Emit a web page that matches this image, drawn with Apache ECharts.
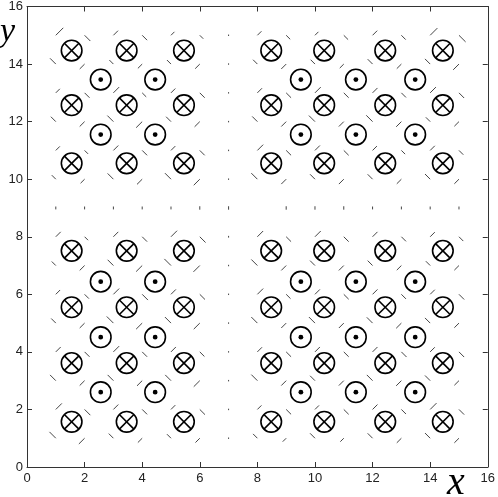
<!DOCTYPE html>
<html>
<head>
<meta charset="utf-8">
<script src="https://cdn.jsdelivr.net/npm/echarts/dist/echarts.min.js"></script>
<style>
  html, body { margin: 0; padding: 0; background: #fff; }
  #chart { width: 498px; height: 497px; }
</style>
</head>
<body>
<div id="chart"></div>
<script>
// wire positions (centres of the circles)
const crossLeftX = [1.55, 3.46, 5.45];
const crossRightX = [8.48, 10.32, 12.44, 14.44];
const dotLeftX = [2.56, 4.45];
const dotRightX = [9.51, 11.42, 13.48];
const crossTopY = [14.47, 12.57, 10.55];
const crossBottomY = [7.51, 5.55, 3.61, 1.57];
const dotTopY = [13.46, 11.55];
const dotBottomY = [6.44, 4.51, 2.6];

// field dashes on the integer grid, rows from y = 15 down to y = 1
const gridX = [1, 2, 3, 4, 5, 6, 7, 8, 9, 10, 11, 12, 13, 14, 15];
const gridY = [15, 14, 13, 12, 11, 10, 9, 8, 7, 6, 5, 4, 3, 2, 1];
const dashDir = [
  'NE SE NE SE NE SE . NE SE NE SE NE SE NE SE',
  'NW SW NW SW NW SW . NW SW NW SW NW SW NW SW',
  'NE SE NE SE NE SE . NE SE NE SE NE SE NE SE',
  'NW SW NW SW NW SW . NW SW NW SW NW SW NW SW',
  'NE SE NE SE NE SE . NE SE NE SE NE SE NE SE',
  'NW SW NW SW NW SW . NW SW NW SW NW SW NW SW',
  '| | | | | | | - | | | | | | |',
  'NE SE NE SE NE SE . NE SE NE SE NE SE NE SE',
  'NW SW NW SW NW SW . NW SW NW SW NW SW NW SW',
  'NE SE NE SE NE SE . NE SE NE SE NE SE NE SE',
  'NW SW NW SW NW SW . NW SW NW SW NW SW NW SW',
  'NE SE NE SE NE SE . NE SE NE SE NE SE NE SE',
  'NW SW NW SW NW SW . NW SW NW SW NW SW NW SW',
  'NE SE NE SE NE SE . NE SE NE SE NE SE NE SE',
  'NW SW NW SW NW SW . NW SW NW SW NW SW NW SW'
];
const dashLen = [
  [0.26, 0.20, 0.16, 0.17, 0.12, 0.12, 0.05, 0.14, 0.14, 0.12, 0.15, 0.16, 0.15, 0.25, 0.23],
  [0.20, 0.17, 0.14, 0.15, 0.14, 0.16, 0.05, 0.15, 0.17, 0.15, 0.14, 0.17, 0.16, 0.18, 0.20],
  [0.14, 0.17, 0.20, 0.14, 0.15, 0.17, 0.05, 0.16, 0.17, 0.20, 0.17, 0.17, 0.16, 0.20, 0.18],
  [0.17, 0.17, 0.21, 0.21, 0.17, 0.18, 0.05, 0.18, 0.17, 0.21, 0.17, 0.22, 0.18, 0.15, 0.16],
  [0.14, 0.12, 0.17, 0.17, 0.15, 0.17, 0.05, 0.20, 0.17, 0.17, 0.17, 0.15, 0.13, 0.16, 0.15],
  [0.14, 0.14, 0.20, 0.18, 0.21, 0.21, 0.05, 0.21, 0.17, 0.17, 0.17, 0.17, 0.16, 0.18, 0.16],
  [0.10, 0.10, 0.10, 0.10, 0.10, 0.12, 0.12, 0.00, 0.12, 0.12, 0.12, 0.10, 0.10, 0.10, 0.10],
  [0.17, 0.12, 0.17, 0.17, 0.21, 0.20, 0.06, 0.20, 0.17, 0.20, 0.17, 0.17, 0.16, 0.16, 0.15],
  [0.14, 0.17, 0.20, 0.21, 0.23, 0.22, 0.05, 0.21, 0.17, 0.17, 0.17, 0.17, 0.16, 0.15, 0.16],
  [0.15, 0.15, 0.20, 0.20, 0.17, 0.18, 0.05, 0.20, 0.15, 0.17, 0.17, 0.17, 0.16, 0.16, 0.18],
  [0.16, 0.17, 0.23, 0.21, 0.21, 0.21, 0.05, 0.21, 0.17, 0.21, 0.17, 0.20, 0.18, 0.18, 0.16],
  [0.17, 0.17, 0.20, 0.17, 0.17, 0.16, 0.05, 0.16, 0.17, 0.17, 0.17, 0.17, 0.18, 0.16, 0.18],
  [0.20, 0.17, 0.20, 0.18, 0.20, 0.21, 0.05, 0.21, 0.17, 0.17, 0.17, 0.20, 0.18, 0.18, 0.16],
  [0.21, 0.20, 0.17, 0.17, 0.15, 0.18, 0.05, 0.14, 0.17, 0.14, 0.17, 0.17, 0.16, 0.22, 0.18],
  [0.22, 0.20, 0.16, 0.15, 0.14, 0.15, 0.05, 0.15, 0.12, 0.17, 0.12, 0.17, 0.16, 0.18, 0.16]
];

const axisTicks = [0, 2, 4, 6, 8, 10, 12, 14, 16];

const dirVec = { NE: [1, 1], SE: [1, -1], SW: [-1, -1], NW: [-1, 1] };

let dashData = [];
dashDir.forEach((row, i) => {
  row.split(' ').forEach((code, j) => {
    let len = dashLen[i][j];
    let x = gridX[j];
    let y = gridY[i];
    if (code === '-' || len === 0) return;
    if (code === '|' || code === '.') {
      dashData.push([x, y - len / 2, 0, len]);
    } else {
      dashData.push([x, y, dirVec[code][0] * len, dirVec[code][1] * len]);
    }
  });
});

function pairs(xs, ys) {
  let out = [];
  ys.forEach((y) => xs.forEach((x) => out.push([x, y])));
  return out;
}

const crossData = pairs(crossLeftX, crossTopY)
  .concat(pairs(crossRightX, crossTopY))
  .concat(pairs(crossLeftX, crossBottomY))
  .concat(pairs(crossRightX, crossBottomY));
const dotData = pairs(dotLeftX, dotTopY)
  .concat(pairs(dotRightX, dotTopY))
  .concat(pairs(dotLeftX, dotBottomY))
  .concat(pairs(dotRightX, dotBottomY));

const R = 10.3;

function renderDash(params, api) {
  const p0 = api.coord([api.value(0), api.value(1)]);
  const p1 = api.coord([api.value(0) + api.value(2), api.value(1) + api.value(3)]);
  return {
    type: 'line',
    shape: { x1: p0[0], y1: p0[1], x2: p1[0], y2: p1[1] },
    style: { stroke: '#444', lineWidth: 1 }
  };
}

function renderWire(kind) {
  return function (params, api) {
    const c = api.coord([api.value(0), api.value(1)]);
    const children = [{
      type: 'circle',
      shape: { cx: c[0], cy: c[1], r: R },
      style: { fill: '#fff', stroke: '#000', lineWidth: 1.6 }
    }];
    if (kind === 'cross') {
      const d = R * 0.7071;
      children.push({
        type: 'line',
        shape: { x1: c[0] - d, y1: c[1] - d, x2: c[0] + d, y2: c[1] + d },
        style: { stroke: '#000', lineWidth: 1.6 }
      });
      children.push({
        type: 'line',
        shape: { x1: c[0] - d, y1: c[1] + d, x2: c[0] + d, y2: c[1] - d },
        style: { stroke: '#000', lineWidth: 1.6 }
      });
    } else {
      children.push({
        type: 'circle',
        shape: { cx: c[0], cy: c[1], r: 2.4 },
        style: { fill: '#000' }
      });
    }
    return { type: 'group', children: children };
  };
}

const labelFont = {
  color: '#222',
  fontFamily: 'Liberation Sans Narrow, Liberation Sans, sans-serif',
  fontSize: 13
};

function makeAxis(extra) {
  return Object.assign({
    type: 'value',
    min: axisTicks[0],
    max: axisTicks[axisTicks.length - 1],
    interval: 2,
    splitLine: { show: false },
    axisLine: { show: true, onZero: false, lineStyle: { color: '#333', width: 1 } },
    axisTick: { show: true, inside: true, length: 5, lineStyle: { color: '#333' } }
  }, extra);
}

const chart = echarts.init(document.getElementById('chart'));
let option = {
  animation: false,
  grid: { left: 27, right: 6, top: 5, bottom: 30, containLabel: false },
  xAxis: [
    makeAxis({ position: 'bottom', axisLabel: Object.assign({ margin: 5 }, labelFont) }),
    makeAxis({ position: 'top', axisLabel: { show: false } })
  ],
  yAxis: [
    makeAxis({ position: 'left', axisLabel: Object.assign({ margin: 4 }, labelFont) }),
    makeAxis({ position: 'right', axisLabel: { show: false } })
  ],
  graphic: [
    {
      type: 'text', left: 0, top: 15,
      style: { text: 'y', font: 'italic 34px "Liberation Serif", serif', fill: '#000' }
    },
    {
      type: 'text', left: 447, top: 463,
      style: { text: 'x', font: 'italic 40px "Liberation Serif", serif', fill: '#000' }
    }
  ],
  series: [
    {
      type: 'custom',
      coordinateSystem: 'cartesian2d',
      renderItem: renderDash,
      data: dashData,
      encode: { x: 0, y: 1 },
      z: 2
    },
    {
      type: 'custom',
      coordinateSystem: 'cartesian2d',
      renderItem: renderWire('cross'),
      data: crossData,
      encode: { x: 0, y: 1 },
      z: 3
    },
    {
      type: 'custom',
      coordinateSystem: 'cartesian2d',
      renderItem: renderWire('dot'),
      data: dotData,
      encode: { x: 0, y: 1 },
      z: 3
    }
  ]
};
option && chart.setOption(option);
</script>
</body>
</html>
